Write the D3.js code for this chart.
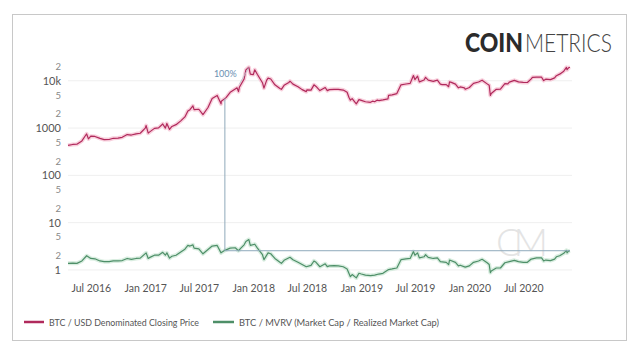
<!DOCTYPE html>
<html><head><meta charset="utf-8">
<script src="https://cdn.jsdelivr.net/npm/d3@7"></script>
<style>
html,body{margin:0;padding:0;background:#fff;}
svg{display:block;font-family:Lato,"Open Sans",sans-serif;}
</style></head>
<body>
<svg id="chart" width="640" height="355"></svg>
<script>
// ---- Data ----
const priceDates = ["2016-04-15","2016-05-01","2016-05-15","2016-06-01","2016-06-12","2016-06-17","2016-06-23","2016-07-01","2016-07-15","2016-08-01","2016-08-15","2016-09-01","2016-09-15","2016-10-01","2016-10-15","2016-11-01","2016-11-15","2016-12-01","2016-12-15",
"2017-01-01","2017-01-04","2017-01-11","2017-01-15","2017-02-01","2017-02-15","2017-03-01","2017-03-10","2017-03-15","2017-03-24","2017-04-01","2017-04-15","2017-05-01","2017-05-15","2017-05-25","2017-06-01","2017-06-11","2017-06-15","2017-07-01","2017-07-15","2017-08-01","2017-08-15","2017-09-01","2017-09-14","2017-09-15","2017-10-01","2017-10-15","2017-11-01","2017-11-07","2017-11-12","2017-11-15","2017-12-01","2017-12-07","2017-12-17","2017-12-22",
"2018-01-01","2018-01-06","2018-01-15","2018-02-01","2018-02-06","2018-02-15","2018-02-20","2018-03-01","2018-03-15","2018-04-01","2018-04-06","2018-04-15","2018-05-01","2018-05-05","2018-05-15","2018-06-01","2018-06-15","2018-06-29","2018-07-01","2018-07-15","2018-07-25","2018-08-01","2018-08-14","2018-09-01","2018-09-08","2018-09-15","2018-10-01","2018-10-15","2018-11-01","2018-11-14","2018-11-20","2018-11-25","2018-12-01","2018-12-15","2018-12-24",
"2019-01-01","2019-01-15","2019-02-01","2019-02-08","2019-02-15","2019-02-24","2019-03-01","2019-03-15","2019-04-01","2019-04-03","2019-04-15","2019-05-01","2019-05-15","2019-06-01","2019-06-15","2019-06-26","2019-07-01","2019-07-10","2019-07-16","2019-08-01","2019-08-06","2019-08-15","2019-09-01","2019-09-15","2019-09-25","2019-10-01","2019-10-15","2019-10-23","2019-10-26","2019-11-01","2019-11-15","2019-11-25","2019-12-01","2019-12-15","2019-12-18",
"2020-01-01","2020-01-15","2020-02-01","2020-02-13","2020-03-01","2020-03-08","2020-03-12","2020-03-15","2020-04-01","2020-04-15","2020-04-30","2020-05-10","2020-05-15","2020-06-01","2020-06-15","2020-07-01","2020-07-15","2020-07-28","2020-08-01","2020-08-15","2020-09-01","2020-09-08","2020-09-15","2020-10-01","2020-10-15","2020-10-21","2020-11-01","2020-11-15","2020-11-24","2020-11-26","2020-12-01","2020-12-06"];
const priceValues = [430,450,455,535,680,750,590,675,665,605,570,573,608,615,638,730,712,755,778,
998,1130,780,820,985,1010,1220,1000,1250,935,1080,1180,1420,1720,2300,2450,2950,2450,2500,1930,2720,4200,4900,3250,3700,4400,5700,6700,7100,5900,7300,10900,17000,19300,13800,
13500,17100,13600,9100,7000,10200,11400,10900,8200,6900,6600,8000,9200,9800,8500,7500,6500,5900,6400,6350,8200,7600,6200,7200,6200,6500,6600,6600,6350,5700,4500,3900,4200,3250,4000,
3850,3600,3500,3700,3600,3900,3820,3950,4150,4900,5050,5350,8200,8550,8800,12900,10600,12500,9500,10400,11800,10300,9700,10300,8500,8300,8300,7500,9500,9250,8500,7100,7400,7100,6600,
7200,8800,9400,10300,8600,8000,4900,5400,6600,6650,8700,8600,9350,10200,9450,9230,9200,10950,11800,11900,11900,10100,10800,10600,11500,12800,13800,15950,19150,17100,18800,19350];

const mvrvDates = ["2016-04-15","2016-05-01","2016-05-15","2016-06-01","2016-06-17","2016-07-01","2016-07-15","2016-08-01","2016-08-15","2016-09-01","2016-09-15","2016-10-01","2016-10-15","2016-11-01","2016-11-15","2016-12-01","2016-12-15",
"2017-01-04","2017-01-11","2017-01-15","2017-02-01","2017-02-15","2017-03-01","2017-03-10","2017-03-15","2017-03-24","2017-04-01","2017-04-15","2017-05-01","2017-05-15","2017-05-25","2017-06-01","2017-06-11","2017-06-15","2017-07-01","2017-07-15","2017-08-01","2017-08-15","2017-09-01","2017-09-14","2017-09-27","2017-10-15","2017-11-01","2017-11-12","2017-11-20","2017-12-01","2017-12-07","2017-12-17","2017-12-22",
"2018-01-06","2018-01-15","2018-02-01","2018-02-06","2018-02-20","2018-03-01","2018-03-15","2018-04-01","2018-04-06","2018-04-15","2018-05-05","2018-05-15","2018-06-01","2018-06-15","2018-06-29","2018-07-15","2018-07-25","2018-08-01","2018-08-14","2018-09-01","2018-09-08","2018-09-15","2018-10-01","2018-10-15","2018-11-01","2018-11-14","2018-11-20","2018-11-25","2018-12-01","2018-12-15","2018-12-24",
"2019-01-01","2019-01-15","2019-02-01","2019-02-15","2019-03-01","2019-03-15","2019-04-03","2019-04-15","2019-05-01","2019-05-15","2019-06-01","2019-06-15","2019-06-26","2019-07-01","2019-07-10","2019-07-16","2019-08-01","2019-08-06","2019-08-15","2019-09-01","2019-09-15","2019-09-25","2019-10-15","2019-10-23","2019-10-26","2019-11-15","2019-11-25","2019-12-01","2019-12-18",
"2020-01-01","2020-01-15","2020-02-01","2020-02-13","2020-03-01","2020-03-08","2020-03-12","2020-03-15","2020-04-01","2020-04-15","2020-04-30","2020-05-15","2020-06-01","2020-06-15","2020-07-01","2020-07-15","2020-07-28","2020-08-15","2020-09-01","2020-09-08","2020-09-15","2020-10-01","2020-10-15","2020-10-21","2020-11-01","2020-11-15","2020-11-24","2020-11-26","2020-12-01","2020-12-06"];
const mvrvValues = [1.38,1.40,1.38,1.55,2.0,1.75,1.72,1.55,1.50,1.50,1.55,1.55,1.58,1.75,1.68,1.75,1.78,
2.3,1.75,1.82,2.05,2.05,2.36,2.05,2.3,1.78,1.95,2.05,2.4,2.75,3.3,3.2,3.4,2.9,2.8,2.2,2.7,3.2,3.3,2.3,2.6,2.9,2.95,2.55,2.9,3.4,4.0,4.4,3.3,
3.5,2.9,2.1,1.65,2.3,2.2,1.75,1.45,1.38,1.6,1.85,1.65,1.45,1.3,1.17,1.25,1.55,1.45,1.17,1.35,1.18,1.22,1.23,1.22,1.17,1.05,0.85,0.72,0.8,0.68,0.85,
0.82,0.78,0.76,0.78,0.82,0.85,1.02,1.05,1.1,1.65,1.72,1.75,2.45,2.05,2.3,1.8,1.9,2.1,1.85,1.75,1.8,1.5,1.45,1.3,1.62,1.45,1.22,1.26,1.15,
1.22,1.45,1.55,1.68,1.42,1.3,0.88,0.95,1.1,1.1,1.42,1.5,1.6,1.5,1.45,1.45,1.7,1.8,1.8,1.55,1.62,1.58,1.7,1.9,2.0,2.25,2.6,2.3,2.5,2.55];

const yTickValues = [1,2,5,10,20,50,100,200,500,1000,2000,5000,10000,20000];
const yTickLabels = ["1","2","5","10","2","5","100","2","5","1000","2","5","10k","2"];
const gridValues = [1,10,100,1000,10000];
const xTickDates = ["2016-07-01","2017-01-01","2017-07-01","2018-01-01","2018-07-01","2019-01-01","2019-07-01","2020-01-01","2020-07-01"];
const xTickLabels = ["Jul 2016","Jan 2017","Jul 2017","Jan 2018","Jul 2018","Jan 2019","Jul 2019","Jan 2020","Jul 2020"];
const seriesNames = ["BTC / USD Denominated Closing Price","BTC / MVRV (Market Cap / Realized Market Cap)"];
// annotation: reference MVRV level, dates
const annotDate = "2017-09-27";
const annotLevel = 2.55;
const annotLabel = "100%";
const diagFrom = "2017-11-15";
const diagTo = "2017-12-17";

// ---- Drawing ----
const parse = d3.utcParse("%Y-%m-%d");
const svg = d3.select("#chart");
const price = priceDates.map((d,i)=>({date:parse(d), v:priceValues[i]}));
const mvrv = mvrvDates.map((d,i)=>({date:parse(d), v:mvrvValues[i]}));

const x = d3.scaleUtc().domain([parse("2016-04-15"), parse("2020-12-06")]).range([68, 570]);
const y = d3.scaleLog().domain([0.5, 30000]).range([284.2, 58.2]);

// frame
svg.append("rect").attr("x",12.5).attr("y",14.5).attr("width",614).attr("height",326)
  .attr("fill","none").attr("stroke","#c8c8c8").attr("stroke-width",1);

// logo
svg.append("text").attr("x",465).attr("y",52).attr("font-family","Lato, sans-serif")
  .attr("font-weight",900).attr("font-size",26).attr("fill","#2b2b2b")
  .attr("textLength",58).attr("lengthAdjust","spacingAndGlyphs").text("COIN");
svg.append("text").attr("x",525).attr("y",52).attr("font-family","Lato, sans-serif")
  .attr("font-weight",300).attr("font-size",26).attr("fill","#444")
  .attr("textLength",87).attr("lengthAdjust","spacingAndGlyphs").text("METRICS");

// gridlines
svg.append("g").selectAll("line").data(gridValues).join("line")
  .attr("x1",68).attr("x2",572).attr("y1",d=>y(d)).attr("y2",d=>y(d))
  .attr("stroke","#efefef").attr("stroke-width",1);

// watermark
svg.append("text").attr("x",518).attr("y",256).attr("text-anchor","middle")
  .attr("font-family","Lato, sans-serif").attr("font-weight",300).attr("font-size",38)
  .attr("letter-spacing",-8).attr("fill","#e4e4e4").text("CM");

// y axis
const yAxis = d3.axisLeft(y).tickValues(yTickValues).tickSize(0).tickPadding(0)
  .tickFormat((d,i)=>yTickLabels[i]);
const gy = svg.append("g").attr("transform","translate(61,0)").call(yAxis);
gy.select(".domain").remove();
gy.selectAll("text").attr("font-family","Lato, sans-serif")
  .attr("font-size",(d)=>gridValues.includes(d)?11:9.5)
  .attr("fill",(d)=>gridValues.includes(d)?"#555":"#888");

// x axis
const xAxis = d3.axisBottom(x).tickValues(xTickDates.map(parse)).tickSize(0).tickPadding(0)
  .tickFormat((d,i)=>xTickLabels[i]);
const gx = svg.append("g").attr("transform","translate(0,285)").call(xAxis);
gx.select(".domain").remove();
gx.selectAll("text").attr("font-family","Lato, sans-serif").attr("font-size",10.5).attr("fill","#555");

// lines
const line = d3.line().x(d=>x(d.date)).y(d=>y(d.v));
function drawSeries(data, halo, col){
  svg.append("path").datum(data).attr("d",line).attr("fill","none")
    .attr("stroke",halo).attr("stroke-width",4).attr("stroke-linejoin","round").attr("opacity",0.8);
  svg.append("path").datum(data).attr("d",line).attr("fill","none")
    .attr("stroke",col).attr("stroke-width",1.2).attr("stroke-linejoin","round");
}
drawSeries(price, "#f6c3d3", "#b02a5c");
drawSeries(mvrv, "#cfe9d8", "#4e8f68");

// annotation lines
const aDate = parse(annotDate);
const bis = d3.bisector(d=>d.date).left;
function valueAt(data, dt){
  const i = bis(data, dt);
  if(i<=0) return data[0].v;
  const a=data[i-1], b=data[i];
  const t=(dt-a.date)/(b.date-a.date);
  return Math.exp(Math.log(a.v)*(1-t)+Math.log(b.v)*t);
}
const annotPrice = valueAt(price, aDate);
const ann = svg.append("g").attr("stroke","#8fa9bb").attr("stroke-width",1).attr("fill","none");
ann.append("line").attr("x1",x(aDate)).attr("x2",x(aDate)).attr("y1",y(annotPrice)).attr("y2",y(annotLevel));
ann.append("line").attr("x1",x(aDate)).attr("x2",x(parse("2020-12-06"))).attr("y1",y(annotLevel)).attr("y2",y(annotLevel));
const d0 = parse(diagFrom), d1 = parse(diagTo);
ann.append("line").attr("x1",x(d0)).attr("y1",y(valueAt(price,d0))-3)
  .attr("x2",x(d1)).attr("y2",y(valueAt(price,d1))).attr("stroke","#b8c6d0").attr("stroke-width",0.8);
svg.append("text").attr("x",x(aDate)-11).attr("y",77).attr("font-family","Lato, sans-serif")
  .attr("font-size",9).attr("fill","#6b8fb2").text(annotLabel);

// legend
const legend = svg.append("g").attr("font-family","Lato, sans-serif").attr("font-size",9.5).attr("fill","#555");
const legItems = [{x:24, w:20, col:"#b02a5c", tl:150},{x:213, w:21, col:"#4e8f68", tl:200}];
legItems.forEach((it,i)=>{
  legend.append("line").attr("x1",it.x).attr("x2",it.x+it.w).attr("y1",322).attr("y2",322)
    .attr("stroke",it.col).attr("stroke-width",2.5);
  legend.append("text").attr("x",it.x+it.w+5).attr("y",325.5)
    .attr("textLength",it.tl).attr("lengthAdjust","spacingAndGlyphs").text(seriesNames[i]);
});
</script>
</body></html>
